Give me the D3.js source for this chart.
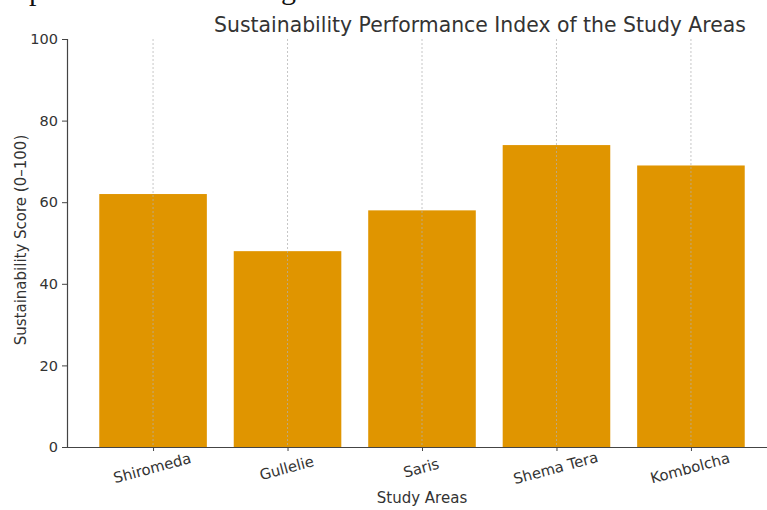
<!DOCTYPE html>
<html>
<head>
<meta charset="utf-8">
<script src="https://cdn.jsdelivr.net/npm/d3@7"></script>
<style>
  body { margin: 0; background: #fff; }
  svg text { font-family: "DejaVu Sans", sans-serif; }
</style>
</head>
<body>
<div id="chart"></div>
<script>
// data
var areas = ["Shiromeda", "Gullelie", "Saris", "Shema Tera", "Kombolcha"];
var scores = [62, 48, 58, 74, 69];
var yTicks = [0, 20, 40, 60, 80, 100];

var width = 767;
var height = 510;

// plot box (edges of the axes area)
var plotLeft = 67, plotRight = 777, plotTop = 39, plotBottom = 447;

var svg = d3.select("#chart")
  .append("svg")
  .attr("width", width)
  .attr("height", height);

// cropped line of the page text above the figure
svg.append("text")
  .attr("x", 29).attr("y", 0)
  .style("font-family", "'Liberation Serif', serif")
  .style("font-size", "30px")
  .attr("fill", "#111")
  .text("p");
svg.append("text")
  .attr("x", 281).attr("y", -1)
  .style("font-family", "'Liberation Serif', serif")
  .style("font-size", "30px")
  .attr("fill", "#111")
  .text("g");

// bars sit at 0..4 with width 0.8, like matplotlib
var xScale = d3.scaleLinear()
  .domain([-0.64, areas.length - 1 + 0.64])
  .range([plotLeft, plotRight]);

var yScale = d3.scaleLinear()
  .domain([0, 100])
  .range([plotBottom, plotTop]);

var barW = xScale(0.8) - xScale(0);

// bars
svg.selectAll("rect.bar")
  .data(scores)
  .enter()
  .append("rect")
  .attr("class", "bar")
  .attr("x", function(d, i) { return xScale(i) - barW / 2; })
  .attr("y", function(d) { return yScale(d); })
  .attr("width", barW)
  .attr("height", function(d) { return plotBottom - yScale(d); })
  .attr("fill", "#e09500");

// dotted vertical grid on top of bars
svg.selectAll("line.grid")
  .data(areas)
  .enter()
  .append("line")
  .attr("class", "grid")
  .attr("x1", function(d, i) { return xScale(i); })
  .attr("x2", function(d, i) { return xScale(i); })
  .attr("y1", plotTop)
  .attr("y2", plotBottom)
  .attr("stroke", "#b0b0b0")
  .attr("stroke-opacity", 0.8)
  .attr("stroke-width", 0.9)
  .attr("stroke-dasharray", "2,2");

// y axis
var yAxis = d3.axisLeft(yScale)
  .tickValues(yTicks)
  .tickSize(5)
  .tickPadding(4);

var gy = svg.append("g")
  .attr("transform", "translate(" + plotLeft + ",0)")
  .call(yAxis);
gy.select(".domain").attr("stroke", "#444").attr("stroke-width", 1.2);
gy.selectAll(".tick line").attr("stroke", "#444");
gy.selectAll(".tick text")
  .style("font-size", "14.5px")
  .attr("fill", "#333");

// x axis
var xAxis = d3.axisBottom(xScale)
  .tickValues(d3.range(areas.length))
  .tickFormat(function(i) { return areas[i]; })
  .tickSize(4)
  .tickSizeOuter(0);

var gx = svg.append("g")
  .attr("transform", "translate(0," + plotBottom + ")")
  .call(xAxis);
gx.select(".domain").attr("stroke", "#444").attr("stroke-width", 1.2);
gx.selectAll(".tick line").attr("stroke", "#444");
gx.selectAll(".tick text")
  .style("font-size", "14.8px")
  .attr("fill", "#333")
  .attr("text-anchor", "middle")
  .attr("dy", null)
  .attr("y", 0)
  .attr("transform", "translate(0,26) rotate(-15)");

// axis titles
svg.append("text")
  .attr("x", 422)
  .attr("y", 503)
  .attr("text-anchor", "middle")
  .style("font-size", "15px")
  .attr("fill", "#333")
  .text("Study Areas");

svg.append("text")
  .attr("transform", "translate(26,240) rotate(-90)")
  .attr("text-anchor", "middle")
  .style("font-size", "15px")
  .attr("fill", "#333")
  .text("Sustainability Score (0–100)");

// chart title
svg.append("text")
  .attr("x", 480)
  .attr("y", 32)
  .attr("text-anchor", "middle")
  .style("font-size", "20.4px")
  .attr("fill", "#333")
  .text("Sustainability Performance Index of the Study Areas");
</script>
</body>
</html>
